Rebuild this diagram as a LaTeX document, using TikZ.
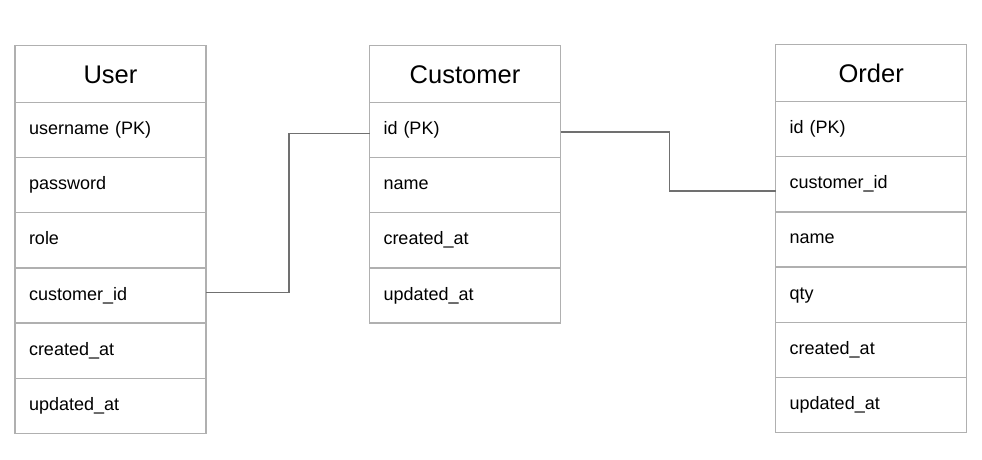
\documentclass[tikz,border=0pt]{standalone}
\usepackage{fontspec}
\setmainfont{Liberation Sans}
\usetikzlibrary{calc}
\definecolor{bgrey}{HTML}{B0B0B0}
\definecolor{cgrey}{HTML}{707070}
\tikzset{
  cell/.style={draw=bgrey, line width=1.3pt, fill=white, minimum width=191pt, minimum height=55.15pt,
    text width=163pt, align=left, inner xsep=14pt, inner ysep=0pt, outer sep=0pt,
    text height=13pt, text depth=4pt,
    font=\fontsize{18}{21}\selectfont, anchor=north west},
  head/.style={cell, minimum height=57.3pt, align=center, text height=18.5pt, text depth=0pt,
    font=\fontsize{25.5}{28}\selectfont},
  conn/.style={draw=cgrey, line width=1.4pt}
}
\begin{document}
\begin{tikzpicture}[x=1pt,y=-1pt]
\useasboundingbox (0,0) rectangle (982,460);
% User
\node[head] (u0) at (15,45.2) {User};
\node[cell] (u1) at (u0.south west) {username (PK)};
\node[cell] (u2) at (u1.south west) {password};
\node[cell] (u3) at (u2.south west) {role};
\node[cell] (u4) at (u3.south west) {customer\_id};
\node[cell] (u5) at (u4.south west) {created\_at};
\node[cell] (u6) at (u5.south west) {updated\_at};
% Customer
\node[head] (c0) at (369.5,45.2) {Customer};
\node[cell] (c1) at (c0.south west) {id (PK)};
\node[cell] (c2) at (c1.south west) {name};
\node[cell] (c3) at (c2.south west) {created\_at};
\node[cell] (c4) at (c3.south west) {updated\_at};
% Order
\node[head] (o0) at (775.7,44.3) {Order};
\node[cell] (o1) at (o0.south west) {id (PK)};
\node[cell] (o2) at (o1.south west) {customer\_id};
\node[cell] (o3) at (o2.south west) {name};
\node[cell] (o4) at (o3.south west) {qty};
\node[cell] (o5) at (o4.south west) {created\_at};
\node[cell] (o6) at (o5.south west) {updated\_at};
% connectors
\draw[conn] ([yshift=3pt]u4.east) -- ++(83,0) |- ([yshift=-3.5pt]c1.west);
\draw[conn] ([yshift=-2pt]c1.east) -- ++(109,0) |- ([yshift=-6.5pt]o2.west);
\end{tikzpicture}
\end{document}
